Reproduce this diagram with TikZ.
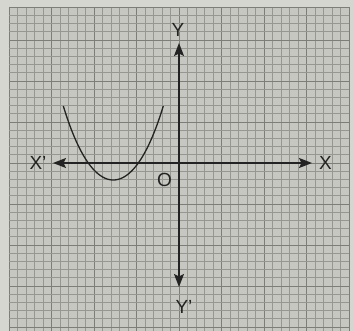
\documentclass[tikz,border=0pt]{standalone}
\usepackage{fontspec}
\setmainfont{Liberation Sans}
\usetikzlibrary{arrows.meta}
\definecolor{pagebg}{RGB}{214,214,208}
\definecolor{paper}{RGB}{198,199,192}
\definecolor{minorline}{RGB}{150,151,145}
\definecolor{majorline}{RGB}{125,126,120}
\definecolor{ink}{RGB}{35,35,35}
\begin{document}
\begin{tikzpicture}[x=1pt,y=-1pt,
  axis/.style={draw=ink,line width=1.6pt,{Stealth[length=13pt,width=10pt,inset=2.5pt]}-{Stealth[length=13pt,width=10pt,inset=2.5pt]}},
  lbl/.style={text=ink,font=\fontsize{19}{19}\selectfont,inner sep=0pt},
  curve/.style={draw=ink,line width=1.3pt},
  minorgrid/.style={draw=minorline,line width=0.6pt},
  majorgrid/.style={draw=majorline,line width=0.9pt}]
\fill[pagebg] (0,0) rectangle (354,331);
\useasboundingbox (0,0) rectangle (354,331);
\fill[paper] (9,7) rectangle (349,331);
% vertical grid lines
\foreach \k in {-20,...,20} \draw[minorgrid] ({179+8.5*\k},7) -- ({179+8.5*\k},331);
\foreach \k in {-20,-15,...,20} \draw[majorgrid] ({179+8.5*\k},7) -- ({179+8.5*\k},331);
% horizontal grid lines
\foreach \j in {-19,...,20} \draw[minorgrid] (9,{163+8.2*\j}) -- (349,{163+8.2*\j});
\foreach \j in {-15,-10,...,20} \draw[majorgrid,line width=0.75pt] (9,{163+8.2*\j}) -- (349,{163+8.2*\j});
\draw[majorgrid] (9,{163-8.2*19}) -- (349,{163-8.2*19});
% axes
\coordinate (xl) at (53,163);
\coordinate (xr) at (312,163);
\coordinate (yt) at (179,43);
\coordinate (yb) at (179,287);
\draw[axis] (xl) -- (xr);
\draw[axis] (yb) -- (yt);
% labels
\node[lbl] (X) at (325.5,163) {X};
\node[lbl] (Xp) at (38,163) {X'};
\node[lbl] (Y) at (178,30) {Y};
\node[lbl] (Yp) at (184,307) {Y'};
\node[lbl] (O) at (164.5,180) {O};
% curve
\draw[curve] plot[domain=-50:50, samples=80] ({113.3+\x},{180-0.0264*\x*\x-0.0128*(\x/10)^4});
\end{tikzpicture}
\end{document}
